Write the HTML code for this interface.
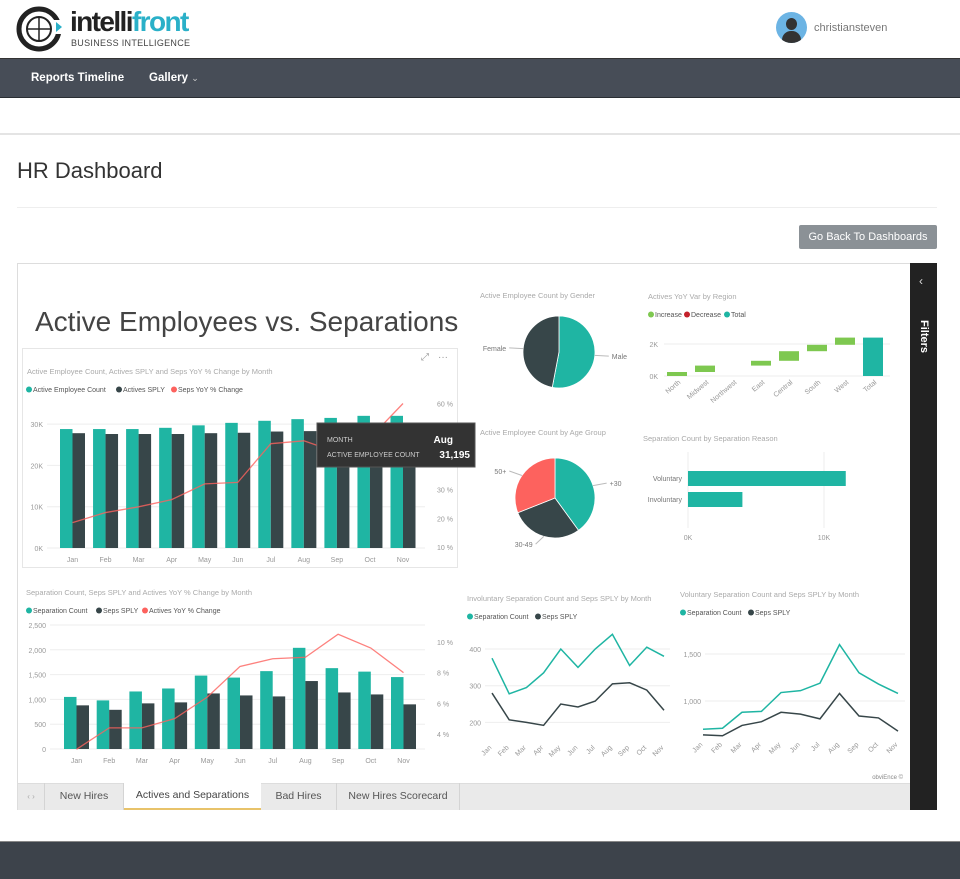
<!DOCTYPE html>
<html><head><meta charset="utf-8">
<style>
body{margin:0;width:960px;height:879px;position:relative;overflow:hidden;background:#fff;font-family:"Liberation Sans",sans-serif}
.abs{position:absolute}
</style></head>
<body>
<div class="abs" style="left:0;top:0;width:960px;height:58px;background:#fff"></div>
<svg class="abs" style="left:16px;top:6px" width="50" height="46">
<circle cx="23" cy="23" r="20" fill="none" stroke="#222" stroke-width="5"/>
<circle cx="23" cy="23" r="12" fill="none" stroke="#222" stroke-width="2"/>
<line x1="11" y1="23" x2="35" y2="23" stroke="#222" stroke-width="1.5"/><line x1="23" y1="11" x2="23" y2="35" stroke="#222" stroke-width="1.5"/>
<rect x="38" y="14" width="8" height="14" fill="#fff"/><path d="M40 16 l6 5 -6 5z" fill="#2ab0c8"/>
</svg>
<div class="abs" style="left:70px;top:7px;font-size:28px;font-weight:bold;letter-spacing:-1.6px;color:#222;line-height:30px">intelli<span style="color:#2ab0c8">front</span></div>
<div class="abs" style="left:71px;top:38px;font-size:9px;color:#444;letter-spacing:0.3px">BUSINESS INTELLIGENCE</div>
<div class="abs" style="left:776px;top:12px;width:31px;height:31px;border-radius:50%;background:#6cb4e4;overflow:hidden"><div style="position:absolute;left:10px;top:6px;width:11px;height:12px;border-radius:50%;background:#333"></div><div style="position:absolute;left:6px;top:19px;width:19px;height:14px;border-radius:9px 9px 0 0;background:#333"></div></div>
<div class="abs" style="left:814px;top:22px;font-size:11px;color:#777">christiansteven</div>
<div class="abs" style="left:0;top:58px;width:960px;height:40px;background:#474d57;border-top:1px solid #333;border-bottom:1px solid #2a2e33;box-sizing:border-box"></div>
<div class="abs" style="left:31px;top:72px;font-size:11.5px;font-weight:bold;color:#fff">Reports Timeline</div>
<div class="abs" style="left:149px;top:72px;font-size:11.5px;font-weight:bold;color:#fff">Gallery <span style="font-weight:normal;font-size:9px;color:#ccc">⌄</span></div>
<div class="abs" style="left:0;top:133px;width:960px;height:2px;background:#e4e4e4"></div>
<div class="abs" style="left:17px;top:158px;font-size:22px;color:#333">HR Dashboard</div>
<div class="abs" style="left:17px;top:207px;width:920px;height:1px;background:#eee"></div>
<div class="abs" style="left:799px;top:225px;width:138px;height:24px;background:#8b9196;color:#fff;font-size:11px;line-height:24px;text-align:center;border-radius:2px">Go Back To Dashboards</div>
<div class="abs" style="left:17px;top:263px;width:920px;height:547px;border:1px solid #ddd;box-sizing:border-box;background:#fff"></div>
<div class="abs" style="left:910px;top:263px;width:27px;height:547px;background:#222"></div>
<div class="abs" style="left:919px;top:274px;color:#ddd;font-size:12px">‹</div>
<div class="abs" style="top:320px;color:#fff;font-size:11px;font-weight:bold;transform:rotate(90deg);transform-origin:left top;left:930px">Filters</div>
<div class="abs" style="left:18px;top:783px;width:892px;height:27px;background:#eaeaea;border-top:1px solid #ddd;box-sizing:border-box"></div>
<div class="abs" style="left:18px;top:783px;width:27px;height:27px;font-size:8px;color:#aaa;line-height:27px;text-align:center;border-right:1px solid #d4d4d4;box-sizing:border-box">‹ ›</div>
<div class="abs" style="left:45px;top:783px;width:79px;height:27px;font-size:10.5px;color:#555;line-height:27px;text-align:center;border-right:1px solid #d4d4d4;box-sizing:border-box">New Hires</div>
<div class="abs" style="left:124px;top:783px;width:137px;height:27px;background:#fff;font-size:10.5px;color:#444;line-height:25px;text-align:center;border-bottom:2px solid #e8c36a;box-sizing:border-box">Actives and Separations</div>
<div class="abs" style="left:261px;top:783px;width:76px;height:27px;font-size:10.5px;color:#555;line-height:27px;text-align:center;border-right:1px solid #d4d4d4;box-sizing:border-box">Bad Hires</div>
<div class="abs" style="left:337px;top:783px;width:123px;height:27px;font-size:10.5px;color:#555;line-height:27px;text-align:center;border-right:1px solid #d4d4d4;box-sizing:border-box">New Hires Scorecard</div>
<div class="abs" style="left:0;top:841px;width:960px;height:38px;background:#3d434b;border-top:1px solid #888;box-sizing:border-box"></div>

<svg id="cv" class="abs" style="left:0;top:0" width="960" height="879" font-family="Liberation Sans, sans-serif"></svg>

<script>
// Chart 1: Active Employees
const months=["Jan","Feb","Mar","Apr","May","Jun","Jul","Aug","Sep","Oct","Nov"];
const activeCount=[28.8,28.8,28.8,29.1,29.7,30.3,30.8,31.2,31.5,32.0,32.0];
const activesSPLY=[27.8,27.6,27.6,27.6,27.8,27.9,28.2,28.3,28.3,28.3,28.3];
const sepsYoY=[18.5,22,24,26.5,32,32.5,46,47,43,48,60];
const c1LeftTicks=[0,10,20,30];
const c1RightTicks=[10,20,30,60];
// Chart 2: Separations
const sepCount=[1050,980,1160,1220,1480,1440,1570,2040,1630,1560,1450];
const sepsSPLY=[880,790,920,940,1120,1080,1060,1370,1140,1100,900];
const activesYoY=[3.0,4.4,4.4,5.0,6.4,8.4,8.9,9.0,10.5,9.6,8.0];
const c2LeftTicks=[0,500,1000,1500,2000,2500];
const c2RightTicks=[4,6,8,10];
// Chart 3: Involuntary
const invSep=[375,278,295,335,400,350,400,440,355,405,380];
const invSPLY=[280,207,200,192,250,242,258,305,308,288,233];
const c3Ticks=[200,300,400];
// Chart 4: Voluntary
const volSep=[700,710,880,890,1090,1110,1190,1600,1300,1180,1080];
const volSPLY=[640,630,740,780,880,860,810,1080,840,820,680];
const c4Ticks=[1000,1500];
// Pies
const genderLabels=["Male","Female"];
const genderValues=[53,47];
const ageLabels=["+30","30-49","50+"];
const ageValues=[40,29,31];
// Waterfall
const regions=["North","Midwest","Northwest","East","Central","South","West","Total"];
const regionDelta=[0.25,0.4,0,0.3,0.6,0.4,0.45];
const wfTicks=[0,2];
// Horizontal bar
const reasons=["Voluntary","Involuntary"];
const reasonValues=[11.6,4.0];
const hbTicks=[0,10];

const TEAL="#1fb5a3",DARK="#374649",RED="#fd625e",GRID="#eee",LBL="#999";
const svg=document.getElementById('cv');
const NS="http://www.w3.org/2000/svg";
function mk(tag,attrs,parent){const e=document.createElementNS(NS,tag);for(const k in attrs)e.setAttribute(k,attrs[k]);(parent||svg).appendChild(e);return e;}
function txt(x,y,s,size,fill,anchor,parent){const t=mk('text',{x:x,y:y,'font-size':size,fill:fill,'text-anchor':anchor||'start'},parent);t.textContent=s;return t;}
function grp(){return mk('g',{});}

let r=mk('rect',{x:22.5,y:348.5,width:435,height:219,fill:'none',stroke:'#e6e6e6'});


let t=txt(35,331,"Active Employees vs. Separations",28,"#444");


t=txt(27,374,"Active Employee Count, Actives SPLY and Seps YoY % Change by Month",7.5,"#aaa");


t=txt(421,360,"⤢",10,"#999");


t=txt(438,360,"···",10,"#999");



function legend(x,y,items,name){const g=grp();let cx=x;items.forEach(it=>{mk('circle',{cx:cx+3,cy:y-2.5,r:3,fill:it[1]},g);txt(cx+7,y,it[0],7,"#555","start",g);cx+=it[2];});}
legend(26,392,[["Active Employee Count",TEAL,90],["Actives SPLY",DARK,55],["Seps YoY % Change",RED,80]],'chart1-legend');

function barLineChart(cfg){
  const g=grp();
  const yL=v=>cfg.y0-(v-cfg.lmin)*cfg.lscale, yR=v=>cfg.ry0-(v-cfg.rmin)*cfg.rscale, xM=i=>cfg.x0+i*cfg.dx;
  cfg.lt.forEach((v,i)=>{mk('line',{x1:cfg.gx1,x2:cfg.gx2,y1:yL(v),y2:yL(v),stroke:GRID},g);txt(cfg.gx1-4,yL(v)+3,cfg.ltl[i],7,LBL,'end',g);});
  cfg.rt.forEach(v=>{txt(cfg.rx,yR(v)+3,v+" %",7,LBL,'start',g);});
  cfg.a.forEach((v,i)=>{const b=mk('rect',{x:xM(i)-cfg.bw,y:yL(v),width:cfg.bw,height:cfg.y0-yL(v),fill:TEAL},g);});
  cfg.b.forEach((v,i)=>{const b=mk('rect',{x:xM(i),y:yL(v),width:cfg.bw,height:cfg.y0-yL(v),fill:DARK},g);});
  const p=mk('polyline',{points:cfg.l.map((v,i)=>xM(i)+','+yR(v)).join(' '),fill:'none',stroke:RED,'stroke-width':1.3,opacity:0.8},g);
  
  
  months.forEach((m,i)=>txt(xM(i),cfg.y0+14,m,7,LBL,'middle',g));
}
barLineChart({name:'chart1-plot',key:'actives',x0:72.5,dx:33.05,bw:12.5,y0:548,lmin:0,lscale:4.13,ry0:547,rmin:10,rscale:2.87,gx1:47,gx2:425,rx:437,lt:c1LeftTicks,ltl:c1LeftTicks.map(v=>v+"K"),rt:c1RightTicks,a:activeCount,b:activesSPLY,l:sepsYoY});

const tg=grp();


mk('rect',{x:317,y:423,width:158,height:44,fill:'#333',stroke:'#555'},tg);
txt(327,442,"MONTH",7,"#ccc","start",tg);txt(453,443,"Aug",10,"#fff","end",tg).setAttribute('font-weight','bold');
txt(327,457,"ACTIVE EMPLOYEE COUNT",7,"#ccc","start",tg);txt(470,458,"31,195",10,"#fff","end",tg).setAttribute('font-weight','bold');

t=txt(26,595,"Separation Count, Seps SPLY and Actives YoY % Change by Month",7.5,"#aaa");


legend(26,613,[["Separation Count",TEAL,70],["Seps SPLY",DARK,46],["Actives YoY % Change",RED,80]],'chart2-legend');
barLineChart({name:'chart2-plot',key:'separations',x0:76.5,dx:32.7,bw:12.5,y0:749,lmin:0,lscale:0.0496,ry0:734,rmin:4,rscale:15.35,gx1:50,gx2:425,rx:437,lt:c2LeftTicks,ltl:["0","500","1,000","1,500","2,000","2,500"],rt:c2RightTicks,a:sepCount,b:sepsSPLY,l:activesYoY});

function lineChart(cfg){
  const g=grp();
  const y=v=>cfg.yref-(v-cfg.vref)*cfg.sc, x=i=>cfg.x0+i*cfg.dx;
  cfg.ticks.forEach((v,i)=>{mk('line',{x1:cfg.gx1,x2:cfg.gx2,y1:y(v),y2:y(v),stroke:GRID},g);txt(cfg.gx1-4,y(v)+3,cfg.tl[i],7,LBL,'end',g);});
  [[cfg.a,TEAL,'a'],[cfg.b,DARK,'b']].forEach(s=>{const p=mk('polyline',{points:s[0].map((v,i)=>x(i)+','+y(v)).join(' '),fill:'none',stroke:s[1],'stroke-width':1.5},g);});
  months.forEach((m,i)=>{const tt=txt(x(i),cfg.ly,m,7,LBL,'end',g);tt.setAttribute('transform','rotate(-45 '+x(i)+' '+cfg.ly+')');});
}
t=txt(467,601,"Involuntary Separation Count and Seps SPLY by Month",7.5,"#aaa");


legend(467,619,[["Separation Count",TEAL,68],["Seps SPLY",DARK,46]],'chart3-legend');
lineChart({name:'chart3-plot',key:'involuntary',x0:492,dx:17.2,yref:649,vref:400,sc:0.367,gx1:485,gx2:670,ticks:c3Ticks,tl:["200","300","400"],a:invSep,b:invSPLY,ly:748});
t=txt(680,597,"Voluntary Separation Count and Seps SPLY by Month",7.5,"#aaa");


legend(680,615,[["Separation Count",TEAL,68],["Seps SPLY",DARK,46]],'chart4-legend');
lineChart({name:'chart4-plot',key:'voluntary',x0:703,dx:19.5,yref:701,vref:1000,sc:0.094,gx1:705,gx2:905,ticks:c4Ticks,tl:["1,000","1,500"],a:volSep,b:volSPLY,ly:745});

function pie(cfg){
  const g=grp();
  const tot=cfg.v.reduce((a,b)=>a+b,0);let a0=0;
  cfg.v.forEach((v,i)=>{const a1=a0+v/tot*2*Math.PI;const p=(a)=>[cfg.cx+cfg.r*Math.sin(a),cfg.cy-cfg.r*Math.cos(a)];const s=p(a0),e=p(a1);
    const path=mk('path',{d:`M${cfg.cx},${cfg.cy} L${s[0]},${s[1]} A${cfg.r},${cfg.r} 0 ${a1-a0>Math.PI?1:0} 1 ${e[0]},${e[1]}Z`,fill:cfg.c[i],stroke:'#fff','stroke-width':0.8},g);
    
    
    const m=(a0+a1)/2,lx=cfg.cx+(cfg.r+8)*Math.sin(m),ly=cfg.cy-(cfg.r+8)*Math.cos(m),ex=Math.sin(m)>=0;
    mk('line',{x1:cfg.cx+cfg.r*Math.sin(m),y1:cfg.cy-cfg.r*Math.cos(m),x2:lx+(ex?6:-6),y2:ly,stroke:'#bbb'},g);
    txt(lx+(ex?9:-9),ly+3,cfg.l[i],7,"#777",ex?'start':'end',g);
    a0=a1;});
}
t=txt(480,298,"Active Employee Count by Gender",7.5,"#aaa");


pie({name:'gender-pie',cx:559,cy:352,r:36,v:genderValues,l:genderLabels,c:[TEAL,DARK]});
t=txt(480,435,"Active Employee Count by Age Group",7.5,"#aaa");


pie({name:'age-pie',cx:555,cy:498,r:40,v:ageValues,l:ageLabels,c:[TEAL,DARK,RED]});

t=txt(648,299,"Actives YoY Var by Region",7.5,"#aaa");


legend(648,317,[["Increase","#7ec850",36],["Decrease","#c4212b",40],["Total",TEAL,30]],'waterfall-legend');
(function(){const g=grp();
  const y=v=>376-v*16,x=i=>677+i*28;
  wfTicks.forEach(v=>{mk('line',{x1:664,x2:890,y1:y(v),y2:y(v),stroke:GRID},g);txt(658,y(v)+3,v+"K",7,LBL,'end',g);});
  let cum=0;
  regionDelta.forEach((d,i)=>{const b=mk('rect',{x:x(i)-10,y:y(cum+d),width:20,height:Math.max(d*16,0),fill:d>=0?'#7ec850':'#c4212b'},g);cum+=d;});
  const tb=mk('rect',{x:x(7)-10,y:y(cum),width:20,height:cum*16,fill:TEAL},g);
  
  
  regions.forEach((n,i)=>{const tt=txt(x(i)+4,383,n,7,LBL,'end',g);tt.setAttribute('transform','rotate(-40 '+(x(i)+4)+' 383)');});
})();

t=txt(643,441,"Separation Count by Separation Reason",7.5,"#aaa");


(function(){const g=grp();
  const x=v=>688+v*13.6;
  hbTicks.forEach(v=>{mk('line',{x1:x(v),x2:x(v),y1:452,y2:528,stroke:GRID},g);txt(x(v),540,v+"K",7,LBL,'middle',g);});
  reasonValues.forEach((v,i)=>{const yy=471+i*21;const b=mk('rect',{x:x(0),y:yy,width:x(v)-x(0),height:15,fill:TEAL},g);txt(682,yy+10,reasons[i],7,"#777",'end',g);});
})();

t=txt(903,779,"obviEnce ©",6,"#888","end");


</script>
</body></html>
